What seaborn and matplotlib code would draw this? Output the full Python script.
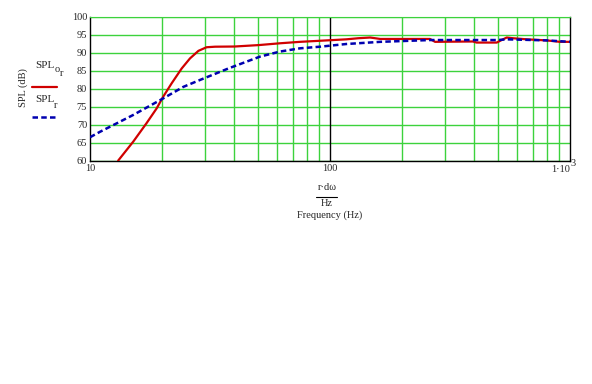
import matplotlib
matplotlib.use('Agg')
import matplotlib.pyplot as plt
from matplotlib.lines import Line2D
import seaborn as sns
import pandas as pd

# SPL_0r curve (red, solid)
freq_red = [13.1, 15.15, 17.2, 18.95, 20.2, 21.9, 24.1, 26.1, 28.3, 30.6, 33.2, 40, 50.5, 61.9,
            75, 90.9, 117, 131, 147, 162, 261, 274, 394, 408, 495, 519, 545, 579, 660, 800, 908, 1000]
spl_red = [60.1, 65.4, 70.5, 74.6, 77.9, 81.6, 85.7, 88.5, 90.6, 91.6, 91.75, 91.8, 92.2, 92.7,
           93.1, 93.4, 93.8, 94.1, 94.3, 93.9, 93.9, 93.1, 93.2, 92.9, 92.9, 93.6, 94.3, 94.1,
           93.8, 93.5, 93.1, 93.1]

# SPL_r curve (blue, dashed)
freq_blue = [10, 11.0, 15.15, 20.2, 24.5, 28.7, 37.7, 51.1, 61.9, 75, 90.9,
             117, 162, 261, 500, 545, 800, 1000]
spl_blue = [66.6, 68.1, 72.8, 77.4, 80.6, 82.5, 85.7, 89.0, 90.4, 91.3, 91.75,
            92.5, 93.1, 93.6, 93.6, 93.8, 93.5, 93.1]

y_ticks = [60, 65, 70, 75, 80, 85, 90, 95, 100]
x_minor = [20, 30, 40, 50, 60, 70, 80, 90, 200, 300, 400, 500, 600, 700, 800, 900]

sns.set_style('white')
plt.rcParams['font.family'] = ['Liberation Serif', 'DejaVu Serif']
fs = 7.5
W, H = 592, 384

fig = plt.figure(figsize=(W / 100, H / 100), dpi=100)
ax = fig.add_axes([90 / W, 1 - 161 / H, 480 / W, 144 / H])

grid_green = '#3cd23c'
for y in y_ticks:
    ax.axhline(y, color=grid_green, lw=1.0, zorder=1)
for x in x_minor:
    ax.axvline(x, color=grid_green, lw=1.0, zorder=1)
ax.axvline(100, color='black', lw=1.0, zorder=1)

df_red = pd.DataFrame({'f': freq_red, 'spl': spl_red})
df_blue = pd.DataFrame({'f': freq_blue, 'spl': spl_blue})
sns.lineplot(data=df_red, x='f', y='spl', ax=ax, color='#d00000', lw=1.6, zorder=3)
sns.lineplot(data=df_blue, x='f', y='spl', ax=ax, color='#0000b0', lw=1.8, zorder=4)
ax.lines[-1].set_dashes((2.2, 1.3))

ax.set_xscale('log')
ax.set_xlim(10, 1000)
ax.set_ylim(60, 100)
ax.set_yticks(y_ticks)
ax.set_yticklabels([str(v) for v in y_ticks], fontsize=fs)
ax.set_xticks([10, 100, 1000])
ax.set_xticklabels(['10', '100', ''], fontsize=fs)
ax.minorticks_off()
ax.tick_params(length=0, pad=2)
ax.set_xlabel('')
ax.set_ylabel('')

for s in ['left', 'bottom', 'right']:
    ax.spines[s].set_color('black')
    ax.spines[s].set_linewidth(1.0)
ax.spines['top'].set_color(grid_green)

# 1·10^3 label
ax.text(1000, -0.056, '1·10', transform=ax.get_xaxis_transform(), ha='right', va='center', fontsize=fs)
ax.text(1001, -0.014, '3', transform=ax.get_xaxis_transform(), ha='left', va='center', fontsize=fs)


def ftext(px, py, s, size=fs, **kw):
    fig.text(px / W, 1 - py / H, s, fontsize=size, **kw)


# x axis label block
ftext(327, 188, 'r·dω', ha='center', va='center')
fig.add_artist(Line2D([316 / W, 337 / W], [1 - 197 / H, 1 - 197 / H], color='black', lw=0.8))
ftext(327, 204, 'Hz', ha='center', va='center')
ftext(330, 215, 'Frequency (Hz)', ha='center', va='center')

# y label
ftext(23, 88, 'SPL (dB)', rotation=90, ha='center', va='center')

# legend
lf = 8
ftext(35, 66, 'SPL', size=lf, ha='left', va='center')
ftext(55, 69, 'o', size=lf - 0.5, ha='left', va='center')
ftext(60, 74, 'r', size=lf - 0.5, ha='left', va='center')
fig.add_artist(Line2D([32 / W, 57 / W], [1 - 87 / H, 1 - 87 / H], color='#d00000', lw=1.6))
ftext(35, 99, 'SPL', size=lf, ha='left', va='center')
ftext(54, 106, 'r', size=lf - 0.5, ha='left', va='center')
blue_leg = Line2D([32 / W, 58 / W], [1 - 117 / H, 1 - 117 / H], color='#0000b0', lw=1.8)
blue_leg.set_dashes((2.2, 1.3))
fig.add_artist(blue_leg)

fig.savefig('out.png', dpi=100)
